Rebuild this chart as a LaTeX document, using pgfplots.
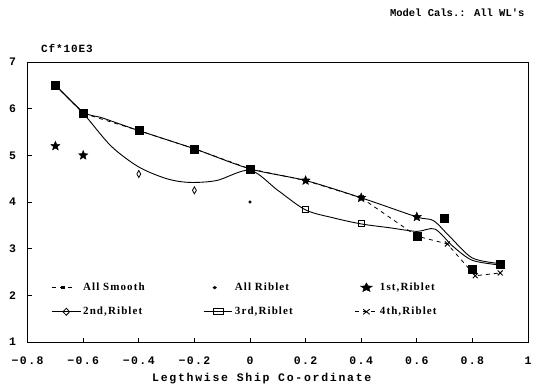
\documentclass[border=0pt]{standalone}
\usepackage{fontspec}
\usepackage{pgfplots}
\pgfplotsset{compat=1.18}
\setmainfont{Liberation Serif}
\newfontfamily\tickf[LetterSpace=12]{Liberation Mono Bold}
\newfontfamily\labf[LetterSpace=15]{Liberation Mono Bold}
\newfontfamily\titf{Liberation Mono Bold}
\newfontfamily\cff[LetterSpace=8]{Liberation Mono Bold}
\newfontfamily\legf[LetterSpace=10]{Liberation Serif Bold}
\pgfdeclareplotmark{fstar}{%
  \pgfpathmoveto{\pgfpointpolar{90}{\pgfplotmarksize}}%
  \pgfpathlineto{\pgfpointpolar{126}{0.45\pgfplotmarksize}}%
  \pgfpathlineto{\pgfpointpolar{162}{\pgfplotmarksize}}%
  \pgfpathlineto{\pgfpointpolar{198}{0.45\pgfplotmarksize}}%
  \pgfpathlineto{\pgfpointpolar{234}{\pgfplotmarksize}}%
  \pgfpathlineto{\pgfpointpolar{270}{0.45\pgfplotmarksize}}%
  \pgfpathlineto{\pgfpointpolar{306}{\pgfplotmarksize}}%
  \pgfpathlineto{\pgfpointpolar{342}{0.45\pgfplotmarksize}}%
  \pgfpathlineto{\pgfpointpolar{18}{\pgfplotmarksize}}%
  \pgfpathlineto{\pgfpointpolar{54}{0.45\pgfplotmarksize}}%
  \pgfpathclose\pgfusepathqfillstroke}
\begin{document}
\begin{tikzpicture}
\begin{axis}[
  width=500.4pt, height=280pt, scale only axis,
  xmin=-0.8, xmax=1, ymin=1, ymax=7,
  xtick={-0.8,-0.6,-0.4,-0.2,0,0.2,0.4,0.6,0.8,1},
  xticklabels={−0.8,−0.6,−0.4,−0.2,0,0.2,0.4,0.6,0.8,1},
  ytick={1,2,3,4,5,6,7},
  yticklabels={1,2,3,4,5,6,7},
  tick align=inside, major tick length=4pt,
  xtick pos=left, ytick pos=left,
  axis line style={line width=0.9pt},
  tick style={line width=0.8pt, black},
  ticklabel style={font=\tickf\fontsize{11.5}{13}\selectfont},
  xticklabel style={yshift=-11pt},
  yticklabel style={xshift=-8pt},
  legend columns=3,
  legend cell align=left,
  legend style={draw=none, fill=none, inner sep=0pt,
    at={(axis cs:-0.715,2.31)}, anchor=north west,
    font=\legf\fontsize{11}{12}\selectfont,
    /tikz/every even column/.append style={text width=118pt, xshift=5pt},
    row sep=11pt},
  legend image post style={xscale=1.3},
  clip=false,
]
% smooth curves
\addplot[smooth, line width=0.9pt, forget plot] coordinates {
(-0.7,6.5) (-0.6,5.9) (-0.5,5.2) (-0.4,4.75) (-0.3,4.5) (-0.22,4.42) (-0.12,4.46) (0,4.68)
(0.1,4.25) (0.2,3.83) (0.3,3.66) (0.4,3.53) (0.5,3.45) (0.6,3.37) (0.665,3.42) (0.73,3.05) (0.8,2.75) (0.9,2.65)};
\addplot[smooth, line width=0.9pt, forget plot] coordinates {
(-0.7,6.5) (-0.6,5.93) (-0.53,5.8) (-0.4,5.53) (-0.2,5.14) (0,4.71) (0.2,4.46) (0.4,4.09)
(0.6,3.68) (0.66,3.6) (0.72,3.25) (0.8,2.8) (0.9,2.68)};
% legend series
\addplot[dash pattern=on 4pt off 4pt, line width=0.8pt, mark=square*, mark size=1pt, mark options={solid}] coordinates {
(-0.7,6.5) (-0.6,5.9) (-0.4,5.53) (-0.2,5.14) (0,4.71) (0.2,4.46) (0.4,4.09)};
\addlegendentry{All Smooth}
\addplot[only marks, mark=*, mark size=1.4pt] coordinates {(0,4.0)};
\addlegendentry{All Riblet}
\addplot[only marks, mark=fstar, mark size=4.8pt] coordinates {(-0.7,5.2) (-0.6,5.0) (0.2,4.46) (0.4,4.09) (0.6,3.68)};
\addlegendentry{1st,Riblet}
\addplot[only marks, mark=diamond, mark size=2.6pt, mark options={yscale=1.35, fill=white, line width=0.8pt}, legend image post style={sharp plot, line width=0.9pt, xscale=1.3}] coordinates {(-0.4,4.6) (-0.2,4.25)};
\addlegendentry{2nd,Riblet}
\addplot[only marks, mark=square, mark size=3pt, mark options={fill=white, line width=0.9pt}, legend image post style={sharp plot, line width=0.9pt, xscale=1.3}] coordinates {(0.2,3.83) (0.4,3.53)};
\addlegendentry{3rd,Riblet}
\addplot[dash pattern=on 4pt off 4pt, line width=0.8pt, mark=x, mark size=3.5pt, mark options={solid, line width=0.9pt}] coordinates {
(0.4,4.09) (0.6,3.27) (0.71,3.1) (0.81,2.42) (0.9,2.48)};
\addlegendentry{4th,Riblet}
% overlapping filled markers
\addplot[only marks, mark=square*, mark size=4pt, forget plot] coordinates {
(-0.7,6.5) (-0.6,5.9) (-0.4,5.53) (-0.2,5.14) (0,4.71) (0.6,3.27) (0.7,3.66) (0.8,2.55) (0.9,2.67)};
\coordinate (SW) at (rel axis cs:0,0);
\coordinate (NE) at (rel axis cs:1,1);
\node[anchor=east, font=\titf\fontsize{10.5}{12}\selectfont, yshift=49pt] at (rel axis cs:1,1) {Model Cals.: All WL's};
\node[anchor=west, font=\cff\fontsize{11}{13}\selectfont, xshift=10pt, yshift=14pt] at (rel axis cs:0,1) {Cf*10E3};
\node[font=\labf\fontsize{11.5}{13}\selectfont, xshift=-16pt, yshift=-37pt] at (rel axis cs:0.5,0) {Legthwise Ship Co-ordinate};
\end{axis}
\pgfresetboundingbox
\path ([shift={(-27.6pt,-45pt)}]SW) rectangle ([shift={(8pt,62pt)}]NE);
\end{tikzpicture}
\end{document}
